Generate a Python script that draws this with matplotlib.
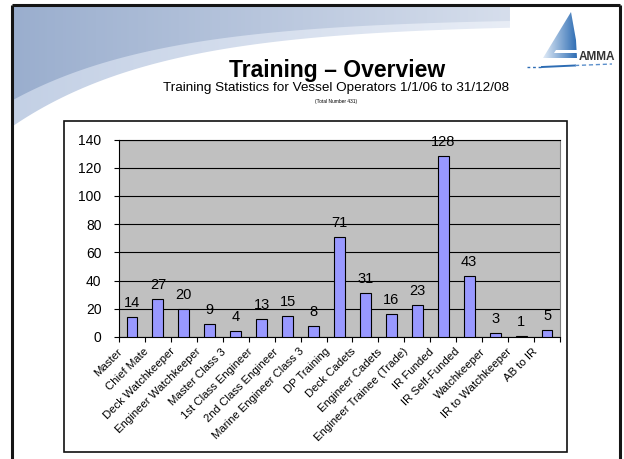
import numpy as np
import matplotlib
matplotlib.use('Agg')
import matplotlib.pyplot as plt
from matplotlib.patches import Rectangle, Polygon
from matplotlib.transforms import ScaledTranslation
from matplotlib.colors import LinearSegmentedColormap

plt.rcParams['font.family'] = ['Liberation Sans', 'DejaVu Sans']

categories = ["Master", "Chief Mate", "Deck Watchkeeper", "Engineer Watchkeeper",
              "Master Class 3", "1st Class Engineer", "2nd Class Engineer",
              "Marine Engineer Class 3", "DP Training", "Deck Cadets",
              "Engineer Cadets", "Engineer Trainee (Trade)", "IR Funded",
              "IR Self-Funded", "Watchkeeper", "IR to Watchkeeper", "AB to IR"]
values = [14, 27, 20, 9, 4, 13, 15, 8, 71, 31, 16, 23, 128, 43, 3, 1, 5]
y_ticks = [0, 20, 40, 60, 80, 100, 120, 140]

title = "Training \u2013 Overview"
subtitle = "Training Statistics for Vessel Operators 1/1/06 to 31/12/08"
note = "(Total Number 431)"

W, H = 624, 459
fig = plt.figure(figsize=(W / 100, H / 100), dpi=100)
fig.patch.set_facecolor('white')

# ---------- slide background ----------
bg = fig.add_axes([0, 0, 1, 1])
bg.set_xlim(0, W)
bg.set_ylim(H, 0)
bg.axis('off')


def swoosh_edge(y_end, amp, k, n=300):
    xs = np.linspace(510, 13, n)
    return np.column_stack([xs, y_end + amp * np.exp(-(xs - 13) / k)])


def grad_fill(ax, verts, c0, c1, extent):
    patch = Polygon(verts, closed=True, facecolor='none', edgecolor='none')
    ax.add_patch(patch)
    cmap = LinearSegmentedColormap.from_list('g', [c0, c1])
    g = np.linspace(0, 1, 256)[None, :]
    im = ax.imshow(g, extent=extent, aspect='auto', cmap=cmap, interpolation='bilinear')
    im.set_clip_path(patch)


# light band
verts_light = np.vstack([[(13, 6), (510, 6)], swoosh_edge(24, 102, 150)])
grad_fill(bg, verts_light, '#C3D0E5', '#E8EDF6', (13, 510, 130, 6))
# dark swoosh
verts_dark = np.vstack([[(13, 6), (510, 6)], swoosh_edge(18, 82, 150)])
grad_fill(bg, verts_dark, '#9AAECE', '#D6DEEC', (13, 510, 130, 6))

# slide frame
bg.plot([12, 12], [5, H], color='#151515', lw=2.2, solid_capstyle='butt')
bg.plot([12, 620], [5, 5], color='#151515', lw=2.2, solid_capstyle='butt')
bg.plot([620, 620], [5, H], color='#151515', lw=2.2, solid_capstyle='butt')

# logo
grad_fill(bg, [(571, 12), (543, 58), (577, 58), (576, 40)], '#E2ECF7', '#2E6DB4', (543, 577, 58, 12))
bg.add_patch(Polygon([(556, 50), (577, 50), (577, 52.5), (554, 52.5)], facecolor='white', edgecolor='none'))
bg.text(597, 57.5, "AMMA", fontsize=8.5, color='#333333', ha='center', va='center', fontweight='bold')
bg.plot([527, 542], [67, 67], color='#2E6DB4', lw=1, ls=(0, (2, 2)))
bg.plot([542, 575], [67, 65.5], color='#2E6DB4', lw=1.4)
bg.plot([575, 612], [65.5, 64], color='#5B8FCB', lw=1, ls=(0, (3, 2)))

# chart box
bg.add_patch(Rectangle((64, 121), 503, 331, facecolor='white', edgecolor='#111111', lw=1.2))

# titles
fig.text(337.5 / W, 1 - 76.5 / H, title, fontsize=16.5, fontweight='bold', ha='center', va='baseline')
fig.text(336 / W, 1 - 91 / H, subtitle, fontsize=9.7, ha='center', va='baseline')
fig.text(336 / W, 1 - 101.5 / H, note, fontsize=3.5, ha='center', va='center')

# ---------- chart ----------
ax = fig.add_axes([119 / W, 1 - 337 / H, 441 / W, 197.5 / H])
ax.set_facecolor('#C0C0C0')
x = np.arange(len(values))
ax.bar(x, values, width=0.42, color='#9999FF', edgecolor='black', linewidth=0.8, zorder=3)
ax.set_xlim(-0.5, len(values) - 0.5)
ax.set_ylim(0, 140)
ax.set_yticks(y_ticks)
ax.yaxis.grid(True, color='black', lw=0.8)
ax.set_axisbelow(True)
ax.tick_params(axis='y', direction='out', length=3.6, width=0.8, pad=9, labelsize=10)
ax.set_xticks(x)
ax.set_xticklabels([])
ax.tick_params(axis='x', which='major', length=0)
ax.set_xticks(np.arange(len(values) + 1) - 0.5, minor=True)
ax.tick_params(axis='x', which='minor', direction='out', length=3.6, width=0.8)
for s in ['left', 'bottom', 'top']:
    ax.spines[s].set_color('black')
    ax.spines[s].set_linewidth(0.8)
ax.spines['right'].set_color('#808080')
ax.spines['right'].set_linewidth(0.8)

off = ScaledTranslation(-11 / 100, -13 / 100, fig.dpi_scale_trans)
for i, lab in enumerate(categories):
    ax.text(i, 0, lab, transform=ax.get_xaxis_transform() + off, rotation=45,
            rotation_mode='anchor', ha='right', va='center', fontsize=8.2)

for i, v in enumerate(values):
    ax.annotate(str(v), (i, v), xytext=(0, 5), textcoords='offset points',
                ha='center', va='bottom', fontsize=10.5)

fig.savefig('out.png', dpi=100)
